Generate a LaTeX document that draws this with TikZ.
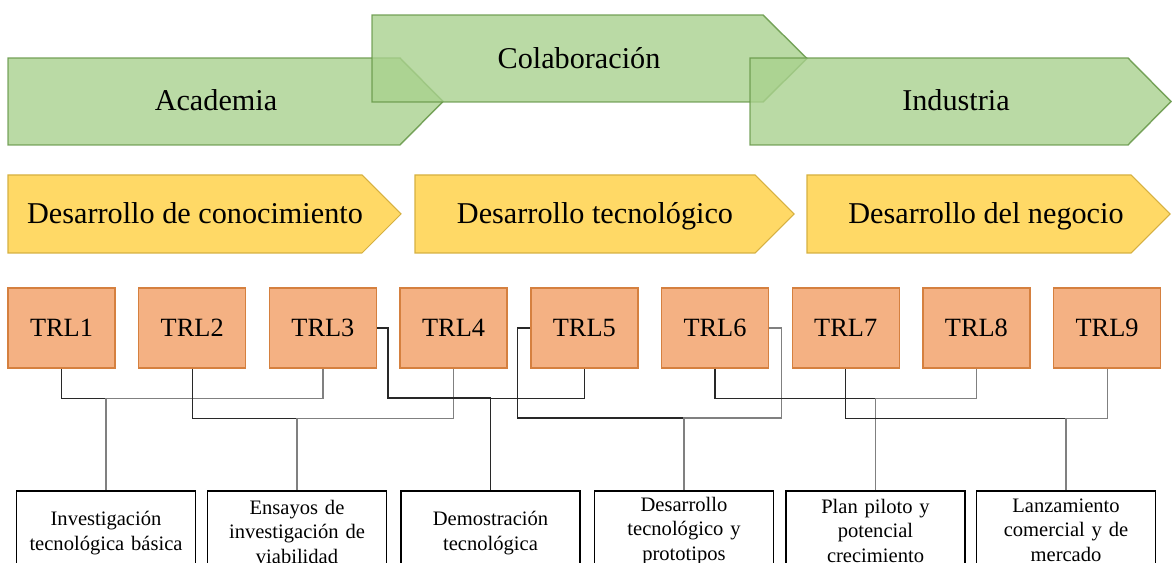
\documentclass[tikz,border=0pt]{standalone}
\usepackage{fontspec}
\setmainfont{Liberation Serif}
\usepackage{tikz}
\usetikzlibrary{positioning, calc}
\definecolor{greenfill}{RGB}{169,209,142}
\definecolor{greenline}{RGB}{100,150,70}
\definecolor{yellowfill}{RGB}{255,217,102}
\definecolor{yellowline}{RGB}{214,176,64}
\definecolor{trlfill}{RGB}{244,177,131}
\definecolor{trlline}{RGB}{213,128,63}

\begin{document}
\begin{tikzpicture}[x=0.02cm, y=-0.02cm,
    greenarrow/.style={fill=greenfill, draw=greenline, line width=0.8pt, fill opacity=0.8, draw opacity=0.85},
    yellowarrow/.style={fill=yellowfill, draw=yellowline, line width=0.6pt},
    bigtext/.style={anchor=base, font=\fontsize{17.2}{20}\selectfont},
    trl/.style={draw=trlline, fill=trlfill, line width=0.8pt, minimum width=2.14cm, minimum height=1.6cm, inner sep=0pt, font=\fontsize{15}{18}\selectfont},
    stage/.style={draw=black, line width=0.9pt, minimum width=3.58cm, text width=3.4cm, align=center, inner sep=0pt, anchor=north, font=\fontsize{11.7}{14}\selectfont},
    link/.style={draw={rgb,255:red,40;green,40;blue,40}, line width=0.7pt},
    linkgray/.style={draw=black!50, line width=0.7pt}]
\useasboundingbox (0,0) rectangle (1172,563);
\clip (0,0) rectangle (1172,563);

% Green arrows
\draw[greenarrow] (8,58) -- (400,58) -- (443,101.5) -- (400,145) -- (8,145) -- cycle;
\draw[greenarrow] (372,15) -- (763,15) -- (807,58.5) -- (763,102) -- (372,102) -- cycle;
\draw[greenarrow] (750,58) -- (1128,58) -- (1171,101.5) -- (1128,145) -- (750,145) -- cycle;
\node[bigtext] (acad) at (216,111) {Academia};
\node[bigtext] (colab) at (579,69) {Colaboración};
\node[bigtext] (indus) at (956,111) {Industria};

% Yellow arrows
\draw[yellowarrow] (8,175) -- (362,175) -- (401,214) -- (362,253) -- (8,253) -- cycle;
\draw[yellowarrow] (415,175) -- (755,175) -- (794,214) -- (755,253) -- (415,253) -- cycle;
\draw[yellowarrow] (807,175) -- (1131,175) -- (1170,214) -- (1131,253) -- (807,253) -- cycle;
\node[bigtext] (conoc) at (195,224) {Desarrollo de conocimiento};
\node[bigtext] (tecno) at (595,224) {Desarrollo tecnológico};
\node[bigtext] (negoc) at (986,224) {Desarrollo del negocio};

% TRL boxes
\foreach \i in {1,...,9} {
    \node[trl] (t\i) at ({61.5+(\i-1)*130.7},328) {TRL\i};
}

% Stage boxes (they run off the bottom edge)
\foreach \n/\x/\h/\txt in {1/106/1.7/{Investigación\\tecnológica básica},
                           2/297/1.64/{Ensayos de\\investigación de\\viabilidad},
                           3/490.5/1.7/{Demostración\\tecnológica},
                           4/684/1.6/{Desarrollo\\tecnológico y\\prototipos},
                           5/875.5/1.6/{Plan piloto y\\potencial\\crecimiento},
                           6/1066/1.58/{Lanzamiento\\comercial y de\\mercado}} {
    \node[stage, minimum height=\h cm] (b\n) at (\x,490) {\txt};
}

% Links
\draw[link] (t1.south) -- ++(0,30) -| (b1.north);
\draw[linkgray] (t3.south) -- ++(0,30) -| (b1.north);
\draw[link] (t2.south) -- ++(0,50) -| (b2.north);
\draw[linkgray] (t4.south) -- ++(0,50) -| (b2.north);
\draw[link] (t3.east) -- ++(11,0) -- ++(0,70) -| (b3.north);
\draw[link] (t5.south) -- ++(0,30) -| (b3.north);
\draw[link] (t5.west) -- ++(-13,0) -- ++(0,90) -| (b4.north);
\draw[linkgray] (t6.east) -- ++(12,0) -- ++(0,90) -| (b4.north);
\draw[link] (t6.south) -- ++(0,30) -| (b5.north);
\draw[linkgray] (t8.south) -- ++(0,30) -| (b5.north);
\draw[link] (t7.south) -- ++(0,50) -| (b6.north);
\draw[linkgray] (t9.south) -- ++(0,50) -| (b6.north);
\end{tikzpicture}
\end{document}
